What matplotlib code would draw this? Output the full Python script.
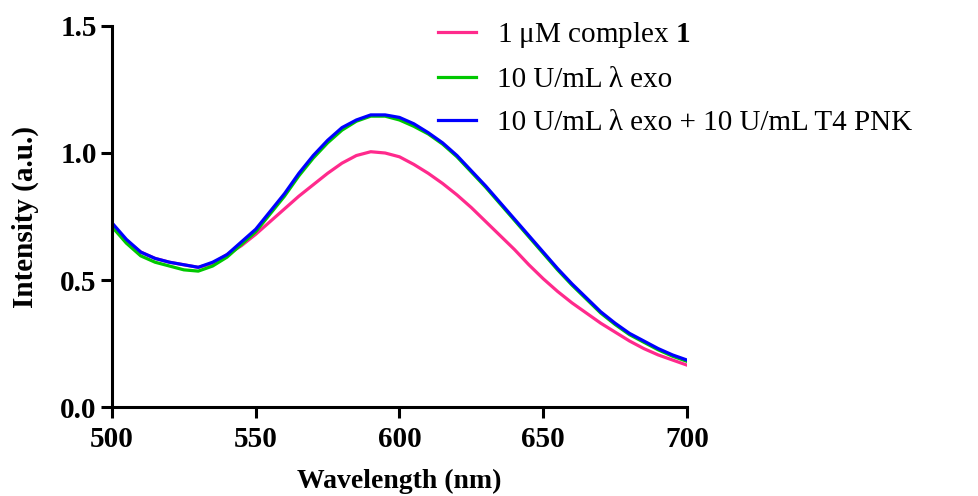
import numpy as np
import matplotlib.pyplot as plt

plt.rcParams['font.family'] = ['Liberation Serif', 'DejaVu Serif']
plt.rcParams['mathtext.fontset'] = 'custom'
plt.rcParams['mathtext.rm'] = 'Liberation Serif'
plt.rcParams['mathtext.bf'] = 'Liberation Serif:bold'

wavelength = np.arange(500, 701, 5)

complex1 = [0.72, 0.655, 0.61, 0.585, 0.57, 0.56, 0.55, 0.565, 0.60, 0.635,
            0.68, 0.73, 0.78, 0.83, 0.875, 0.92, 0.96, 0.99, 1.005, 1.0,
            0.985, 0.955, 0.92, 0.88, 0.835, 0.785, 0.73, 0.675, 0.62, 0.56,
            0.505, 0.455, 0.41, 0.37, 0.33, 0.295, 0.26, 0.23, 0.205, 0.185, 0.165]

exo = [0.71, 0.645, 0.595, 0.57, 0.555, 0.54, 0.535, 0.555, 0.59, 0.64,
       0.69, 0.76, 0.83, 0.91, 0.98, 1.04, 1.09, 1.125, 1.145, 1.145,
       1.13, 1.105, 1.075, 1.035, 0.985, 0.925, 0.865, 0.80, 0.735, 0.67,
       0.605, 0.54, 0.48, 0.425, 0.37, 0.325, 0.285, 0.255, 0.225, 0.20, 0.18]

exo_pnk = [0.725, 0.66, 0.61, 0.585, 0.57, 0.56, 0.55, 0.57, 0.60, 0.65,
           0.70, 0.77, 0.84, 0.92, 0.99, 1.05, 1.10, 1.13, 1.15, 1.15,
           1.14, 1.115, 1.08, 1.04, 0.99, 0.93, 0.87, 0.805, 0.74, 0.675,
           0.61, 0.545, 0.485, 0.43, 0.375, 0.33, 0.29, 0.26, 0.23, 0.205, 0.185]

labels = [r'1 μM complex $\mathbf{1}$', '10 U/mL λ exo', '10 U/mL λ exo + 10 U/mL T4 PNK']
colors = ['#ff2a8c', '#00c800', '#0000ff']

fig = plt.figure(figsize=(9.79, 4.96), dpi=100)
ax = fig.add_axes([0.1144, 0.1794, 0.5873, 0.7682])

for y, lab, c in zip([complex1, exo, exo_pnk], labels, colors):
    ax.plot(wavelength, y, color=c, lw=2.3, label=lab)

ax.set_xlim(500, 700)
ax.set_ylim(0, 1.5)
ax.set_xticks([500, 550, 600, 650, 700])
ax.set_yticks([0.0, 0.5, 1.0, 1.5])
ax.set_yticklabels(['0.0', '0.5', '1.0', '1.5'])
for s in ['top', 'right']:
    ax.spines[s].set_visible(False)
for s in ['left', 'bottom']:
    ax.spines[s].set_linewidth(2.2)
ax.tick_params(direction='out', length=8, width=2.2, labelsize=21)
ax.tick_params(axis='x', pad=6)
ax.tick_params(axis='y', pad=3)
for t in ax.get_xticklabels() + ax.get_yticklabels():
    t.set_fontweight('bold')

ax.set_xlabel('Wavelength (nm)', fontsize=20, fontweight='bold', labelpad=11)
ax.set_ylabel('Intensity (a.u.)', fontsize=21, fontweight='bold', labelpad=15)

fig.legend(loc='upper left', bbox_to_anchor=(0.421, 1.013), frameon=False,
           fontsize=21, handlelength=1.3, handletextpad=0.72, labelspacing=0.58)

fig.savefig('out.png', dpi=100)
